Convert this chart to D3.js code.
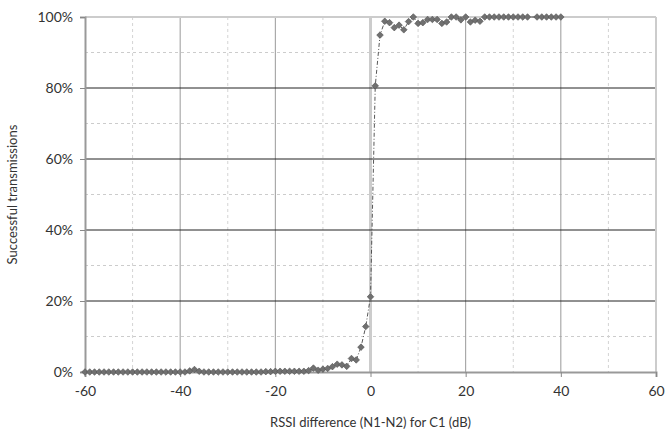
<!DOCTYPE html>
<html>
<head>
<meta charset="utf-8">
<script src="https://cdn.jsdelivr.net/npm/d3@7"></script>
<style>
  body { margin: 0; background: #fff; }
  text { font-family: Lato, "Open Sans", sans-serif; fill: #333; }
</style>
</head>
<body>
<div id="chart"></div>
<script>
// RSSI difference (dB), one point per dB; 34 dB has no point
const rssiDiff = [
  -60, -59, -58, -57, -56, -55, -54, -53, -52, -51,
  -50, -49, -48, -47, -46, -45, -44, -43, -42, -41,
  -40, -39, -38, -37, -36, -35, -34, -33, -32, -31,
  -30, -29, -28, -27, -26, -25, -24, -23, -22, -21,
  -20, -19, -18, -17, -16, -15, -14, -13, -12, -11,
  -10, -9, -8, -7, -6, -5, -4, -3, -2, -1,
  0, 1, 2, 3, 4, 5, 6, 7, 8, 9,
  10, 11, 12, 13, 14, 15, 16, 17, 18, 19,
  20, 21, 22, 23, 24, 25, 26, 27, 28, 29,
  30, 31, 32, 33, 35, 36, 37, 38, 39, 40
]
// successful transmissions (%)
const successRate = [
  0, 0, 0, 0, 0, 0, 0, 0, 0, 0,
  0, 0, 0, 0, 0, 0, 0, 0, 0, 0,
  0, 0, 0.3, 0.7, 0.2, 0, 0, 0, 0, 0,
  0, 0, 0, 0, 0, 0, 0, 0, 0.1, 0.1,
  0.2, 0.2, 0.2, 0.2, 0.2, 0.2, 0.2, 0.4, 1.1, 0.5,
  0.8, 1.0, 1.5, 2.2, 2.0, 1.6, 3.8, 3.4, 7.0, 12.8,
  21.2, 80.6, 94.9, 98.8, 98.4, 97.0, 97.7, 96.4, 98.7, 100,
  98.2, 98.4, 99.3, 99.3, 99.3, 98.2, 98.6, 100, 100, 99.2,
  100, 98.6, 99.1, 98.8, 100, 100, 100, 100, 100, 100,
  100, 100, 100, 100, 100, 100, 100, 100, 100, 100
]
const xTicks = [-60, -40, -20, 0, 20, 40, 60]
const xMinor = [-50, -30, -10, 10, 30, 50]
const yTicks = [0, 20, 40, 60, 80, 100]
const yMinor = [10, 30, 50, 70, 90]

const data = rssiDiff.map((x, i) => ({ x: x, y: successRate[i] }))

const svg_width = 667, svg_height = 432
const margin = { top: 17, right: 11, bottom: 60, left: 85 },
    width = svg_width - margin.left - margin.right,
    height = svg_height - margin.top - margin.bottom

const svg = d3.select("#chart")
    .append("svg")
    .attr("width", svg_width)
    .attr("height", svg_height)
    .append("g")
    .attr("transform", "translate(" + margin.left + "," + margin.top + ")")

const xScale = d3.scaleLinear().domain([-60, 60]).range([0, width])
const yScale = d3.scaleLinear().domain([0, 100]).range([height, 0])

// minor dashed grid
svg.append("g").selectAll("line").data(yMinor)
    .enter().append("line")
    .attr("x1", 0).attr("x2", width)
    .attr("y1", d => yScale(d)).attr("y2", d => yScale(d))
    .style("stroke", "#ccc").style("stroke-dasharray", "3,3")
svg.append("g").selectAll("line").data(xMinor)
    .enter().append("line")
    .attr("y1", 0).attr("y2", height)
    .attr("x1", d => xScale(d)).attr("x2", d => xScale(d))
    .style("stroke", "#d4d4d4").style("stroke-dasharray", "3,3")

// major grid
svg.append("g").selectAll("line").data(xTicks.filter(d => d > -60 && d < 60 && d != 0))
    .enter().append("line")
    .attr("y1", 0).attr("y2", height)
    .attr("x1", d => xScale(d)).attr("x2", d => xScale(d))
    .style("stroke", "#999")
svg.append("line")
    .attr("y1", 0).attr("y2", height)
    .attr("x1", xScale(0)).attr("x2", xScale(0))
    .style("stroke", "#ccc").style("stroke-width", "3px")
svg.append("g").selectAll("line").data(yTicks.filter(d => d > 0 && d < 100))
    .enter().append("line")
    .attr("x1", 0).attr("x2", width)
    .attr("y1", d => yScale(d)).attr("y2", d => yScale(d))
    .style("stroke", "#222")
svg.append("line")
    .attr("x1", 0).attr("x2", width)
    .attr("y1", yScale(100)).attr("y2", yScale(100))
    .style("stroke", "#ccc").style("stroke-width", "2px")
svg.append("line")
    .attr("x1", width).attr("x2", width)
    .attr("y1", 0).attr("y2", height)
    .style("stroke", "#ccc").style("stroke-width", "2px")

// axes
const xAxis = svg.append("g")
    .attr("transform", "translate(0," + height + ")")
    .call(d3.axisBottom(xScale).tickValues(xTicks).tickSize(5).tickPadding(9).tickFormat(d => String(d)))
xAxis.select(".domain").style("stroke", "#999").style("stroke-width", "2px")
xAxis.selectAll(".tick line").style("stroke", "#888")
xAxis.selectAll("text").style("font-size", "14px").attr("fill", "#333")

const yAxis = svg.append("g")
    .call(d3.axisLeft(yScale).tickValues(yTicks).tickSize(5).tickPadding(7).tickFormat(d => d + "%"))
yAxis.select(".domain").style("stroke", "#999").style("stroke-width", "2px")
yAxis.selectAll(".tick line").style("stroke", "#888")
yAxis.selectAll("text").style("font-size", "14px").attr("fill", "#333")

svg.append("text")
    .attr("x", width / 2)
    .attr("y", height + 55)
    .style("text-anchor", "middle")
    .style("font-size", "13px")
    .text("RSSI difference (N1-N2) for C1 (dB)")

svg.append("text")
    .attr("transform", "rotate(-90)")
    .attr("x", -height / 2)
    .attr("y", -68)
    .style("text-anchor", "middle")
    .style("font-size", "13px")
    .text("Successful transmissions")

// series
const line = d3.line().x(d => xScale(d.x)).y(d => yScale(d.y))
svg.append("path")
    .datum(data)
    .attr("d", line)
    .style("fill", "none")
    .style("stroke", "#444")
    .style("stroke-width", "0.9px")
    .style("stroke-dasharray", "4,2,1,2")

svg.append("g").selectAll("path").data(data)
    .enter().append("path")
    .attr("d", d3.symbol().type(d3.symbolDiamond2).size(28))
    .attr("transform", d => "translate(" + xScale(d.x) + "," + yScale(d.y) + ")")
    .style("fill", "#707070")
    .style("stroke", "#505050")
    .style("stroke-width", "0.6px")
</script>
</body>
</html>
